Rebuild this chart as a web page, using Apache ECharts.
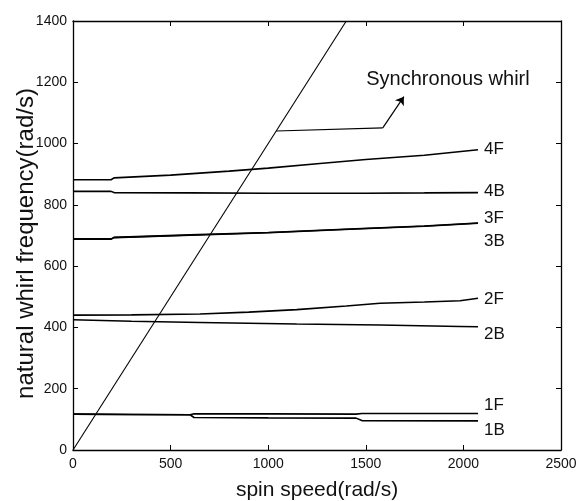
<!DOCTYPE html>
<html>
<head>
<meta charset="utf-8">
<script src="https://cdn.jsdelivr.net/npm/echarts@6/dist/echarts.min.js"></script>
<style>
html,body{margin:0;padding:0;background:#fff;}
#chart{width:576px;height:501px;}
</style>
</head>
<body>
<div id="chart"></div>
<script>
// ---- data (spin speed rad/s, natural whirl frequency rad/s) ----
const xTicks = [0, 500, 1000, 1500, 2000, 2500];
const yTicks = [0, 200, 400, 600, 800, 1000, 1200, 1400];
const sync = [[0, 0], [1400, 1400]];
const m4F = [[0,882],[195,882],[210,888],[500,897],[800,910],[1000,920],[1265,935],[1500,948],[1800,962],[2075,980]];
const m4B = [[0,844],[195,844],[210,840],[600,839],[1000,838],[1500,838],[1800,839],[2075,840]];
const m3F = [[0,689],[195,689],[210,694],[600,702],[1000,710],[1450,722],[1800,731],[2075,741]];
const m3B = [[0,688],[195,688],[210,693],[600,701],[1000,709],[1450,721],[1800,730],[2075,740]];
const m2F = [[0,440],[300,441],[650,444],[900,450],[1146,458],[1400,470],[1573,479],[1800,483],[1983,487],[2075,495]];
const m2B = [[0,425],[300,420],[650,416],[1146,411],[1573,408],[1983,403],[2075,402]];
const m1F = [[0,117],[300,116],[600,115],[620,118],[1000,118],[1450,117],[1480,119],[2075,119]];
const m1B = [[0,117],[300,116],[600,115],[620,106],[1000,105],[1450,104],[1480,96],[2075,95]];
const curveNames = ['4F','4B','3F','3B','2F','2B','1F','1B'];
const curves = [m4F, m4B, m3F, m3B, m2F, m2B, m1F, m1B];
const labelOffsets = [[0,0],[0,-1],[0,-5],[0,18],[0,1],[0,7],[0,-8],[0,9]];
const annotPath = [[1041,1041],[1587,1051],[1695,1153]];
const annotText = 'Synchronous whirl';
const annotPos = [1921, 1208];

const FONT = 'Liberation Sans';
const chart = echarts.init(document.getElementById('chart'));
const curveSeries = curves.map((d, i) => ({
  name: curveNames[i], type: 'line', data: d, showSymbol: false, symbol: 'none',
  lineStyle: {color: '#000', width: 1.6}, z: 3, animation: false,
  endLabel: {show: true, formatter: curveNames[i], color: '#111', fontFamily: FONT,
    fontSize: 17, distance: 6, offset: labelOffsets[i]}
}));
const frameAxis = {
  axisLine: {show: true, onZero: false, lineStyle: {color: '#000', width: 1.3}},
  axisTick: {show: true, inside: true, length: 5, lineStyle: {color: '#000'}},
  splitLine: {show: false}
};
const option = {
  animation: false,
  backgroundColor: '#fff',
  grid: {left: 73, right: 15, top: 21, bottom: 51, show: false,
    containLabel: false, outerBoundsMode: 'none'},
  xAxis: [Object.assign({
    type: 'value', min: 0, max: 2500, interval: 500,
    name: 'spin speed(rad/s)', nameLocation: 'middle', nameGap: 30, nameMoveOverlap: false,
    nameTextStyle: {fontFamily: FONT, fontSize: 21, color: '#111'},
    axisLabel: {color: '#111', fontFamily: FONT, fontSize: 14, margin: 7,
      formatter: v => xTicks.includes(v) ? String(v) : ''}
  }, frameAxis), Object.assign({
    type: 'value', position: 'top', min: 0, max: 2500, interval: 500,
    axisLabel: {show: false}
  }, frameAxis)],
  yAxis: [Object.assign({
    type: 'value', min: 0, max: 1400, interval: 200,
    name: 'natural whirl frequency(rad/s)', nameLocation: 'middle', nameGap: 35, nameMoveOverlap: false,
    nameTextStyle: {fontFamily: FONT, fontSize: 24, color: '#111', padding: [0, 16, 0, 0]},
    axisLabel: {color: '#111', fontFamily: FONT, fontSize: 14, margin: 6,
      formatter: v => yTicks.includes(v) ? String(v) : ''}
  }, frameAxis), Object.assign({
    type: 'value', position: 'right', min: 0, max: 1400, interval: 200,
    axisLabel: {show: false}
  }, frameAxis)],
  series: [{
    name: 'Synchronous', type: 'line', data: sync, showSymbol: false, symbol: 'none',
    lineStyle: {color: '#000', width: 1.1}, z: 4,
    markLine: {
      silent: true, animation: false,
      lineStyle: {color: '#000', width: 1.2, type: 'solid'},
      label: {show: false},
      symbolSize: 8,
      data: [
        [{coord: annotPath[0], symbol: 'none'}, {coord: annotPath[1], symbol: 'none'}],
        [{coord: annotPath[1], symbol: 'none'}, {coord: annotPath[2], symbol: 'arrow'}]
      ]
    },
    markPoint: {
      silent: true, animation: false,
      data: [{coord: annotPos, symbol: 'circle', symbolSize: 0,
        label: {show: true, position: 'inside', formatter: annotText, color: '#111',
          fontFamily: FONT, fontSize: 20}}]
    }
  }].concat(curveSeries)
};
chart.setOption(option);
</script>
</body>
</html>
